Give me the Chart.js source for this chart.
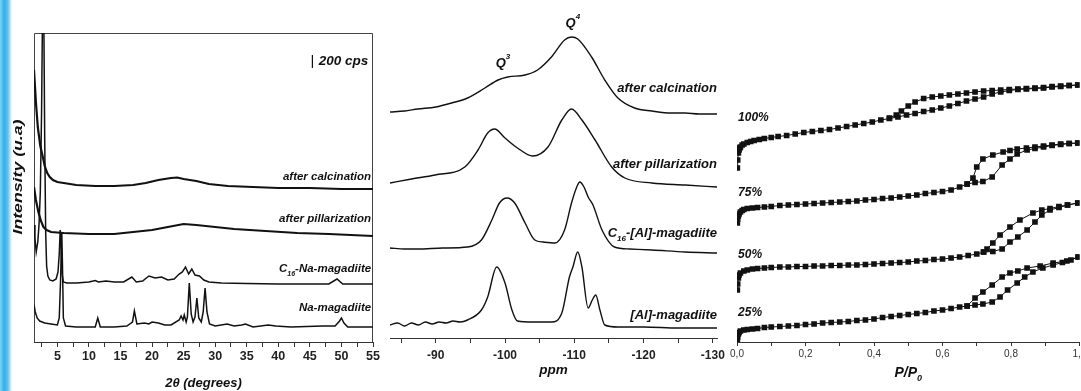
<!DOCTYPE html>
<html>
<head>
<meta charset="utf-8">
<script src="https://cdn.jsdelivr.net/npm/chart.js@4"></script>
<style>
  html, body { margin: 0; padding: 0; background: #fff; width: 1081px; height: 391px; overflow: hidden; }
  #edge { position: absolute; left: 0; top: 0; width: 12px; height: 391px;
          background: linear-gradient(to right, #7fd3f5 0%, #34ade8 35%, #5cc3ef 65%, #c9ecfb 90%, #ffffff 100%); }
  canvas { position: absolute; top: 0; }
</style>
</head>
<body>
<div id="edge"></div>
<canvas id="xrd" width="392" height="391" style="left:0px"></canvas>
<canvas id="nmr" width="368" height="391" style="left:380px"></canvas>
<canvas id="iso" width="400" height="391" style="left:720px"></canvas>
<script>
// ---------- panel 1: XRD, x = 2theta (deg), y = intensity (arbitrary, stacked) ----------
const xrdTicks = [2.5, 5, 7.5, 10, 12.5, 15, 17.5, 20, 22.5, 25, 27.5, 30, 32.5, 35, 37.5, 40, 42.5, 45, 47.5, 50, 52.5, 55];

const xrdCalcination = [[1.3,272],[1.6,240],[1.9,215],[2.3,196],[2.7,185],[3.0,176],[3.4,169],[3.8,165],[4.3,162],[5,160],
  [6,159],[8,157],[11,156],[14,156],[17,157],[19,159],[21,162],[23,164],[24,164.5],[25,163],[27,161],[29,158],[32,156],
  [36,155],[40,154],[45,154],[50,153],[55,153]];

const xrdPillared = [[1.3,155],[1.6,142],[2.0,130],[2.4,121],[2.8,115],[3.3,112],[4,110],[6,109],[10,108],[14,108],
  [17,110],[20,112],[22.5,115],[25,118],[27,117],[30,115],[33,113],[38,111],[43,109],[48,108],[55,106]];

const xrdC16 = [[1.3,117],[1.45,104],[1.65,90],[1.9,100],[2.1,118],[2.3,150],[2.5,230],[2.65,330],[2.75,400],[2.85,330],
  [3.0,200],[3.15,110],[3.3,76],[3.5,66],[3.8,62],[4.3,61],[4.8,63],[5.1,70],[5.3,88],[5.45,112],[5.6,95],[5.75,68],
  [5.95,60],[6.5,59],[8,59],[10,60],[11,61.5],[11.5,60],[12.7,61],[14,60],[15.5,60],[16.8,65],[17.5,60],[18.5,61],
  [19.5,66],[20.5,64],[21.5,65],[22.5,62],[23.5,63],[24.3,68],[24.8,70],[25.3,75],[25.8,68],[26.3,73],[26.8,67],
  [27.5,66],[28.2,62],[29,60],[31,59],[35,58.5],[40,58],[45,58],[48,58],[49.3,63],[50.2,58],[55,58]];

const xrdNa = [[1.3,37],[1.5,30],[1.8,24],[2.2,21],[3,19],[4,18],[5,17],[5.3,24],[5.5,60],[5.7,110],[5.8,80],[5.95,24],
  [6.3,16],[8,15],[10,15],[11,15],[11.4,24],[11.8,15],[14,15],[16,16],[16.9,20],[17.2,31],[17.6,18],[18.8,19],
  [19.5,18],[20,20],[21,19],[22,17],[23,17],[24.3,22],[24.6,26],[24.9,22],[25.1,27],[25.4,20],[25.6,25],[25.9,59],
  [26.2,28],[26.5,20],[26.8,25],[27.1,44],[27.4,24],[27.8,20],[28.1,30],[28.4,54],[28.7,30],[29.1,18],[30,16],
  [31.9,18],[33,16],[34.2,17],[34.8,18],[36,15],[38.4,17],[39.6,16],[42,15],[47,16],[49,16],[49.7,21],[50,24],
  [50.4,19],[51,15],[55,15]];

const xrdScaleBar = [[45.4,274],[45.4,287]];

// ---------- panel 2: 29Si NMR, x = ppm ----------
const nmrTicks = [-85, -90, -95, -100, -105, -110, -115, -120, -125, -130];

const nmrCalcination = [[-83.4,226],[-85.5,227],[-87.4,229],[-90,231],[-92.3,235],[-94.6,240],[-97.1,250],[-99.0,258],
  [-100.4,261],[-102.9,263],[-104.7,268],[-106.7,281],[-108.6,298],[-109.6,301],[-110.5,299],[-112.5,281],
  [-114.4,258],[-116.3,240],[-118.7,230],[-121.2,227],[-124,225],[-126.0,225],[-128,224],[-130.6,224]];

const nmrPillared = [[-83.4,155],[-86.5,159],[-89.9,163],[-94.2,171],[-96.1,188],[-97.5,205],[-98.5,209],[-100,200],
  [-101.8,190],[-104,182],[-106.2,191],[-108.2,218],[-109.6,229],[-111.1,218],[-113,198],[-115.4,171],[-117.3,160],
  [-121.2,155],[-126,153],[-130.6,151]];

const nmrC16Al = [[-83.4,90],[-85.5,89],[-87.4,89],[-91,90],[-94.6,91],[-96.6,98],[-98.1,118],[-99.2,135],[-100.3,140],
  [-101.4,135],[-102.9,115],[-104.3,98],[-105.5,96],[-107.2,95],[-108.6,108],[-109.6,135],[-110.3,150],[-110.8,156],
  [-111.4,151],[-112,141],[-112.7,133],[-114,108],[-115.8,91],[-118,89],[-121.2,88],[-126,86],[-130.6,85]];

const nmrAl = [[-83.4,13],[-84.5,15],[-85.5,12],[-86.5,15],[-87.5,13],[-88.5,16],[-89.5,14],[-90.5,16],[-91.5,15],
  [-92.5,17],[-93.5,16],[-94.6,18],[-96.6,28],[-97.5,41],[-98.8,71],[-100,55],[-101,28],[-101.8,17],[-104,16],
  [-106.7,16],[-108.2,25],[-109.3,61],[-109.8,71],[-110.5,86],[-111.1,71],[-112,30],[-112.6,38],[-113.1,43],
  [-113.7,28],[-114.4,13],[-116.3,11],[-120,11],[-125,10],[-130.6,10]];

// ---------- panel 3: N2 isotherms, x = P/P0 ----------
const isoTicks = [0, 0.1, 0.2, 0.3, 0.4, 0.5, 0.6, 0.7, 0.8, 0.9, 1.0];

const iso100Ads = [[0.001,174],[0.002,182],[0.004,189],[0.006,192],[0.008,194],[0.01,195],[0.015,197],[0.02,198],
  [0.03,199.5],[0.04,200.5],[0.05,201.5],[0.065,202.5],[0.08,203.5],[0.1,204.5],[0.12,205.5],[0.145,206.5],[0.17,208],
  [0.195,209.5],[0.22,210.5],[0.245,211.5],[0.27,212.5],[0.295,214],[0.32,215.5],[0.345,217],[0.37,218.5],[0.395,220],
  [0.42,222],[0.445,223.5],[0.47,225],[0.495,227],[0.52,228.5],[0.545,230.5],[0.57,232],[0.595,234],[0.62,236],
  [0.645,238.5],[0.67,241],[0.695,243],[0.72,245],[0.745,248],[0.77,250],[0.795,251.5],[0.82,252.5],[0.845,253],
  [0.87,253.5],[0.895,254],[0.92,255],[0.945,255.5],[0.97,256.5],[0.995,257]];
const iso100Des = [[0.995,257],[0.97,256.5],[0.945,256],[0.92,255.5],[0.895,254.5],[0.87,254],[0.845,253.5],[0.82,253],
  [0.795,252.5],[0.77,252],[0.745,251.5],[0.72,251],[0.695,250],[0.67,249],[0.645,248],[0.62,247],[0.595,246],
  [0.57,245],[0.545,243.5],[0.52,240],[0.5,236],[0.48,231],[0.465,227],[0.445,224]];

const iso75Ads = [[0.001,119],[0.002,123],[0.004,126],[0.006,128],[0.01,130],[0.015,131.5],[0.02,132.5],[0.03,133.5],
  [0.045,134],[0.06,134.5],[0.08,135],[0.1,135.5],[0.125,136.5],[0.15,137],[0.175,137.5],[0.2,138],[0.225,138.5],
  [0.25,139],[0.275,139.5],[0.3,140],[0.325,140.5],[0.35,141],[0.375,142],[0.4,142.5],[0.425,143.5],[0.45,144],
  [0.475,145],[0.5,146],[0.525,147],[0.55,148.5],[0.575,149.5],[0.6,150.5],[0.625,152],[0.65,155],[0.672,158],
  [0.695,159.5],[0.718,160.5],[0.745,165],[0.774,177],[0.797,183],[0.818,188],[0.847,192],[0.87,193.5],[0.895,195],
  [0.92,196.5],[0.945,197.5],[0.97,198.5],[0.995,199]];
const iso75Des = [[0.995,199],[0.97,198.5],[0.945,198],[0.92,197],[0.895,196],[0.87,195],[0.845,194],[0.818,193],
  [0.797,191.5],[0.777,190],[0.747,187],[0.718,183],[0.70,175],[0.689,164],[0.672,158]];

const iso50Ads = [[0.001,52],[0.002,58],[0.004,64],[0.006,67],[0.01,69],[0.02,71],[0.03,72],[0.045,73],[0.06,73.5],
  [0.08,74],[0.1,74.5],[0.125,75],[0.15,75],[0.175,75.5],[0.2,75.5],[0.225,76],[0.25,76],[0.275,76.5],[0.3,76.5],
  [0.325,77],[0.35,77],[0.375,77.5],[0.4,78],[0.425,78.5],[0.45,79],[0.475,79.5],[0.5,80],[0.525,81],[0.55,81.5],
  [0.575,82.5],[0.6,83],[0.625,84],[0.65,85],[0.675,86.5],[0.7,88],[0.72,90],[0.747,90.5],[0.774,93],[0.797,100],
  [0.82,105],[0.847,112],[0.87,120],[0.89,127],[0.914,132],[0.94,134.5],[0.965,137],[0.995,139]];
const iso50Des = [[0.995,139],[0.965,137],[0.94,135.5],[0.914,133.5],[0.89,132],[0.864,129],[0.826,122],[0.797,115],
  [0.768,107],[0.747,99],[0.73,93],[0.72,90]];

const iso25Ads = [[0.001,2],[0.002,5],[0.004,8],[0.006,9.5],[0.01,11],[0.02,12],[0.03,12.5],[0.045,13],[0.06,13.5],
  [0.08,14.5],[0.1,15],[0.125,15.5],[0.15,16],[0.175,16.5],[0.2,17.5],[0.225,18],[0.25,19],[0.275,19.5],[0.3,20],
  [0.325,20.5],[0.35,21.5],[0.375,22],[0.4,23],[0.425,24.5],[0.45,25.5],[0.475,26.5],[0.5,27.5],[0.525,28.5],
  [0.55,29.5],[0.575,31],[0.6,32],[0.625,33.5],[0.65,35],[0.672,36],[0.695,37],[0.718,38],[0.745,40],[0.768,45],
  [0.79,52],[0.818,59],[0.84,65],[0.864,70],[0.893,74],[0.923,77],[0.95,79.5],[0.975,82],[0.996,85]];
const iso25Des = [[0.996,85],[0.963,81],[0.923,79],[0.885,76],[0.847,74],[0.82,71],[0.797,69],[0.774,65],[0.745,57],
  [0.718,50],[0.695,44],[0.672,36]];

// ---------- helpers ----------
const FONT = '"Liberation Sans", Arial, sans-serif';
const INK = '#111';

function richParts(str) {
  const re = /([_^])\{([^}]*)\}/g;
  const parts = [];
  let last = 0, m;
  while ((m = re.exec(str))) {
    if (m.index > last) parts.push({ t: str.slice(last, m.index), k: '' });
    parts.push({ t: m[2], k: m[1] });
    last = re.lastIndex;
  }
  if (last < str.length) parts.push({ t: str.slice(last), k: '' });
  return parts;
}

function drawRich(ctx, str, x, y, size, align) {
  const parts = richParts(str);
  const big = 'italic bold ' + size + 'px ' + FONT;
  const small = 'italic bold ' + Math.round(size * 0.62) + 'px ' + FONT;
  let w = 0;
  parts.forEach(p => { ctx.font = p.k ? small : big; p.w = ctx.measureText(p.t).width; w += p.w; });
  let cx = align === 'right' ? x - w : align === 'center' ? x - w / 2 : x;
  ctx.textAlign = 'left';
  ctx.textBaseline = 'middle';
  ctx.fillStyle = INK;
  parts.forEach(p => {
    ctx.font = p.k ? small : big;
    const dy = p.k === '_' ? size * 0.42 : p.k === '^' ? -size * 0.45 : 0;
    ctx.fillText(p.t, cx, y + dy);
    cx += p.w;
  });
}

// labels placed at data coordinates (or a fixed canvas y with py)
function labelPlugin(items) {
  return {
    id: 'labels',
    afterDatasetsDraw(chart) {
      const ctx = chart.ctx, sx = chart.scales.x, sy = chart.scales.y;
      ctx.save();
      items.forEach(it => {
        const px = sx.getPixelForValue(it.x);
        const py = it.py !== undefined ? it.py : sy.getPixelForValue(it.y);
        drawRich(ctx, it.text, px, py, it.size, it.align);
      });
      ctx.restore();
    }
  };
}

function fixedTicks(list) {
  return scale => { scale.ticks = list.map(v => ({ value: v })); };
}

function lineSet(data, width) {
  return { data: data, borderColor: INK, borderWidth: width, pointRadius: 0, tension: 0, fill: false };
}

function xAxis(opts) {
  return {
    type: 'linear',
    min: opts.min, max: opts.max, reverse: !!opts.reverse,
    afterBuildTicks: fixedTicks(opts.ticks),
    afterFit: s => { s.height = opts.height; },
    border: { display: true, color: '#333', width: 1 },
    grid: { display: true, drawOnChartArea: false, drawTicks: true, tickLength: opts.tickLength, color: '#333' },
    ticks: { autoSkip: false, maxRotation: 0, padding: opts.pad, color: opts.tickColor,
             font: { family: FONT, size: opts.tickSize, weight: opts.tickWeight }, callback: opts.label },
    title: opts.title || { display: false }
  };
}

const common = { responsive: false, animation: false, events: [],
  plugins: { legend: { display: false }, tooltip: { enabled: false } } };

// ---------- chart 1 ----------
const frame = {
  id: 'frame',
  beforeDatasetsDraw(chart) {
    const { left, right, top, bottom } = chart.chartArea;
    const ctx = chart.ctx;
    ctx.save();
    ctx.strokeStyle = '#444';
    ctx.lineWidth = 1;
    ctx.beginPath();
    ctx.moveTo(left + 0.5, bottom);
    ctx.lineTo(left + 0.5, top + 0.5);
    ctx.lineTo(right - 0.5, top + 0.5);
    ctx.lineTo(right - 0.5, bottom);
    ctx.stroke();
    ctx.restore();
  }
};

const yTitle = {
  id: 'ytitle',
  afterDraw(chart) {
    const ctx = chart.ctx;
    ctx.save();
    ctx.translate(18, 177);
    ctx.rotate(-Math.PI / 2);
    ctx.font = 'italic bold 13px ' + FONT;
    const w = ctx.measureText('Intensity (u.a)').width;
    ctx.scale(115 / w, 1);
    ctx.fillStyle = INK;
    ctx.textAlign = 'center';
    ctx.textBaseline = 'middle';
    ctx.fillText('Intensity (u.a)', 0, 0);
    ctx.restore();
  }
};

new Chart(document.getElementById('xrd'), {
  type: 'line',
  data: { datasets: [
    lineSet(xrdCalcination, 2.2),
    lineSet(xrdPillared, 2.2),
    lineSet(xrdC16, 1.5),
    lineSet(xrdNa, 1.5),
    lineSet(xrdScaleBar, 1.2)
  ] },
  options: Object.assign({}, common, {
    layout: { padding: { left: 34, right: 19, top: 33, bottom: 0 } },
    scales: {
      x: xAxis({ min: 1.3, max: 55, ticks: xrdTicks, height: 49, tickLength: 5, pad: 2,
        tickColor: '#222', tickSize: 12.5, tickWeight: 'bold',
        label: v => (v % 5 === 0 ? String(v) : ''),
        title: { display: true, text: '2θ (degrees)', color: INK, padding: { top: 0, bottom: 0 },
                 font: { family: FONT, size: 13, weight: 'bold', style: 'italic' } } }),
      y: { display: false, min: 0, max: 309 }
    }
  }),
  plugins: [frame, yTitle, labelPlugin([
    { text: 'after calcination', x: 54.7, y: 165, size: 11.5, align: 'right' },
    { text: 'after pillarization', x: 54.7, y: 123, size: 11.5, align: 'right' },
    { text: 'C_{16}-Na-magadiite', x: 54.7, y: 73, size: 11.5, align: 'right' },
    { text: 'Na-magadiite', x: 54.7, y: 34, size: 11.5, align: 'right' },
    { text: '200 cps', x: 46.4, y: 280.5, size: 13.5, align: 'left' }
  ])]
});

// ---------- chart 2 ----------
new Chart(document.getElementById('nmr'), {
  type: 'line',
  data: { datasets: [
    Object.assign(lineSet(nmrCalcination, 1.4), { cubicInterpolationMode: 'monotone' }),
    Object.assign(lineSet(nmrPillared, 1.4), { cubicInterpolationMode: 'monotone' }),
    Object.assign(lineSet(nmrC16Al, 1.4), { cubicInterpolationMode: 'monotone' }),
    Object.assign(lineSet(nmrAl, 1.4), { cubicInterpolationMode: 'monotone' })
  ] },
  options: Object.assign({}, common, {
    layout: { padding: { left: 10, right: 31, top: 20, bottom: 0 } },
    scales: {
      x: xAxis({ min: -130.6, max: -83.4, reverse: true, ticks: nmrTicks, height: 53, tickLength: 5, pad: 5,
        tickColor: '#222', tickSize: 12, tickWeight: 'bold',
        label: v => (v % 10 === 0 ? String(v) : ''),
        title: { display: true, text: 'ppm', color: INK, padding: { top: 0, bottom: 13 },
                 font: { family: FONT, size: 13.5, weight: 'bold', style: 'italic' } } }),
      y: { display: false, min: 0, max: 318 }
    }
  }),
  plugins: [labelPlugin([
    { text: 'after calcination', x: -130.6, y: 250, size: 13, align: 'right' },
    { text: 'after pillarization', x: -130.6, y: 174, size: 13, align: 'right' },
    { text: 'C_{16}-[Al]-magadiite', x: -130.6, y: 105, size: 13, align: 'right' },
    { text: '[Al]-magadiite', x: -130.6, y: 23, size: 13, align: 'right' },
    { text: 'Q^{3}', x: -99.7, y: 275, size: 13, align: 'center' },
    { text: 'Q^{4}', x: -109.8, y: 315, size: 13, align: 'center' }
  ])]
});

// ---------- chart 3 ----------
function isoSet(data) {
  return { data: data, borderColor: INK, borderWidth: 1, tension: 0, fill: false,
           pointStyle: 'rect', pointRadius: 4, pointBackgroundColor: INK, pointBorderColor: INK, pointBorderWidth: 0 };
}

new Chart(document.getElementById('iso'), {
  type: 'line',
  data: { datasets: [
    isoSet(iso100Ads), isoSet(iso100Des),
    isoSet(iso75Ads), isoSet(iso75Des),
    isoSet(iso50Ads), isoSet(iso50Des),
    isoSet(iso25Ads), isoSet(iso25Des)
  ] },
  options: Object.assign({}, common, {
    layout: { padding: { left: 17, right: 40.5, top: 20, bottom: 0 } },
    scales: {
      x: xAxis({ min: 0, max: 1, ticks: isoTicks, height: 49, tickLength: 4, pad: 2,
        tickColor: '#333', tickSize: 10, tickWeight: 'normal',
        label: v => (Math.abs(v * 5 - Math.round(v * 5)) < 1e-6 ? v.toFixed(1).replace('.', ',') : '') }),
      y: { display: false, min: 0, max: 322 }
    }
  }),
  plugins: [labelPlugin([
    { text: '100%', x: 0.003, y: 224, size: 12, align: 'left' },
    { text: '75%', x: 0.003, y: 149, size: 12, align: 'left' },
    { text: '50%', x: 0.003, y: 87, size: 12, align: 'left' },
    { text: '25%', x: 0.003, y: 29, size: 12, align: 'left' },
    { text: 'P/P_{0}', x: 0.5, py: 373, size: 14, align: 'center' }
  ])]
});
</script>
</body>
</html>
